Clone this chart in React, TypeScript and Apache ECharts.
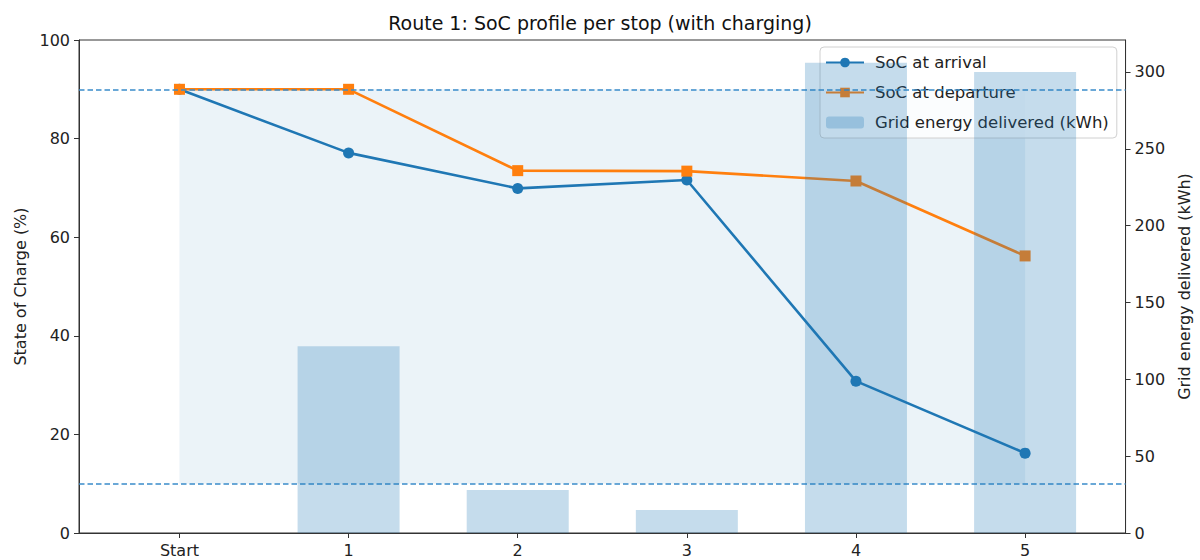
import React, { useEffect, useRef } from "react";
import * as echarts from "echarts";

const categories = ["Start", "1", "2", "3", "4", "5"];
const socArrival = [90, 77.1, 69.9, 71.6, 30.8, 16.2];
const socDeparture = [90, 90, 73.5, 73.4, 71.4, 56.2];
const gridEnergy = [0, 121.5, 28, 15, 306, 300];
const socTicks = [0, 20, 40, 60, 80, 100];
const energyTicks = [0, 50, 100, 150, 200, 250, 300];
const socBand = [10, 90];

const C0 = "#1f77b4";
const C1 = "#ff7f0e";
const FONT = "DejaVu Sans";

export default function App() {
  const ref = useRef<HTMLDivElement>(null);
  useEffect(() => {
    document.body.style.margin = "0";
    const chart = echarts.init(ref.current!, null, { renderer: "svg" });
    const xs = categories.map((_, i) => i);
    const axisText = { color: "#222", fontSize: 16, fontFamily: FONT };
    chart.setOption({
      animation: false,
      textStyle: { fontFamily: FONT },
      title: {
        text: "Route 1: SoC profile per stop (with charging)",
        left: "center",
        top: 8,
        textStyle: { fontSize: 19, fontWeight: "normal", color: "#111", fontFamily: FONT },
      },
      grid: {
        left: 79,
        right: 69,
        top: 40,
        bottom: 27,
        show: true,
        borderColor: "#333",
        borderWidth: 1,
        backgroundColor: "transparent",
      },
      legend: {
        orient: "vertical",
        left: 820,
        top: 47,
        itemWidth: 38,
        itemHeight: 12,
        itemGap: 13,
        padding: [7, 8, 7, 5],
        backgroundColor: "rgba(255,255,255,0.8)",
        borderColor: "#d0d0d0",
        borderWidth: 1,
        borderRadius: 4,
        textStyle: { fontSize: 16.5, color: "#222", fontFamily: FONT, padding: [0, 0, 0, 6] },
        data: ["SoC at arrival", "SoC at departure", "Grid energy delivered (kWh)"],
      },
      xAxis: {
        type: "value",
        min: -0.594,
        max: 5.594,
        splitLine: { show: false },
        axisLine: { show: true, onZero: false, lineStyle: { color: "#333", width: 1 } },
        axisTick: { show: true, length: 5, lineStyle: { color: "#333" }, customValues: xs },
        axisLabel: {
          ...axisText,
          margin: 9,
          customValues: xs,
          formatter: (v: number) => categories[Math.round(v)] ?? "",
        },
      },
      yAxis: [
        {
          type: "value",
          min: 0,
          max: 100,
          interval: 20,
          name: "State of Charge (%)",
          nameLocation: "middle",
          nameGap: 51,
          nameTextStyle: { fontSize: 16, color: "#222", fontFamily: FONT },
          splitLine: { show: false },
          axisLine: { show: true, onZero: false, lineStyle: { color: "#333", width: 1 } },
          axisTick: { show: true, length: 5, lineStyle: { color: "#333" }, customValues: socTicks },
          axisLabel: { ...axisText, margin: 9, customValues: socTicks },
        },
        {
          type: "value",
          min: 0,
          max: 320.8,
          position: "right",
          name: "Grid energy delivered (kWh)",
          nameLocation: "middle",
          nameGap: 50,
          nameRotate: 90,
          nameTextStyle: { fontSize: 16, color: "#222", fontFamily: FONT },
          splitLine: { show: false },
          axisLine: { show: true, onZero: false, lineStyle: { color: "#333", width: 1 } },
          axisTick: { show: true, length: 5, lineStyle: { color: "#333" }, customValues: energyTicks },
          axisLabel: { ...axisText, margin: 9, customValues: energyTicks },
        },
      ],
      series: [
        {
          name: "band",
          type: "line",
          z: 1,
          silent: true,
          data: [],
          xAxisIndex: 0,
          yAxisIndex: 0,
          markArea: {
            silent: true,
            itemStyle: { color: "rgba(31,119,180,0.09)" },
            data: [[{ coord: [xs[0], socBand[0]] }, { coord: [xs[xs.length - 1], socBand[1]] }]],
          },
          markLine: {
            silent: true,
            symbol: ["none", "none"],
            label: { show: false },
            lineStyle: { type: [5.5, 3], color: "#3a8cca", width: 1.5, opacity: 1 },
            data: socBand.map((v) => ({ yAxis: v })),
          },
        },
        {
          name: "SoC at arrival",
          type: "line",
          z: 3,
          yAxisIndex: 0,
          data: xs.map((x, i) => [x, socArrival[i]]),
          symbol: "circle",
          symbolSize: 11,
          lineStyle: { color: C0, width: 2.6 },
          itemStyle: { color: C0 },
        },
        {
          name: "SoC at departure",
          type: "line",
          z: 3,
          yAxisIndex: 0,
          data: xs.map((x, i) => [x, socDeparture[i]]),
          symbol: "rect",
          symbolSize: 11,
          lineStyle: { color: C1, width: 2.6 },
          itemStyle: { color: C1 },
        },
        {
          name: "Grid energy delivered (kWh)",
          type: "bar",
          z: 10,
          yAxisIndex: 1,
          barWidth: 102,
          data: xs.map((x, i) => [x, gridEnergy[i]]),
          itemStyle: { color: "rgba(31,119,180,0.26)" },
        },
      ],
    });
    return () => chart.dispose();
  }, []);
  return <div ref={ref} style={{ width: 1200, height: 560 }} />;
}
